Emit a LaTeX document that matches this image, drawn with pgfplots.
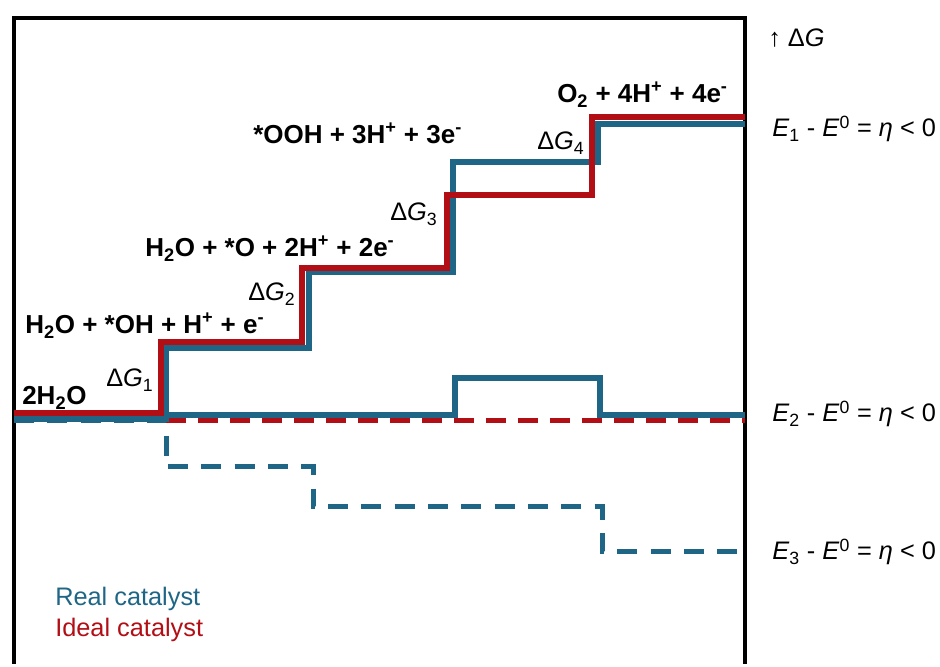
\documentclass[border=0pt]{standalone}
\usepackage{fontspec}
\setmainfont{Liberation Sans}
\usepackage{pgfplots}
\pgfplotsset{compat=1.18}
\definecolor{realc}{RGB}{31,102,134}
\definecolor{idealc}{RGB}{178,14,22}
\begin{document}
\begin{tikzpicture}
\begin{axis}[
 width=705pt, height=498pt, scale only axis,
 xmin=0,xmax=940,ymin=0,ymax=664, y dir=reverse,
 hide axis, clip=false,
]
\path (axis cs:0,0) rectangle (axis cs:940,664);
\draw[line width=3.5pt] (axis cs:14,664) -- (axis cs:14,18) -- (axis cs:745,18) -- (axis cs:745,664);
% real catalyst, E3 (dashed)
\addplot[realc, line width=3.75pt, dash pattern=on 15pt off 10pt] coordinates {(14,421)(166,421)(166,467)(313,467)(313,507)(602,507)(602,551)(745,551)};
% ideal catalyst, E2 (dashed)
\addplot[idealc, line width=3.75pt, dash pattern=on 15pt off 9pt] coordinates {(166,421)(745,421)};
% real catalyst, E2
\addplot[realc, line width=4.5pt] coordinates {(166,415)(455,415)(455,378)(600,378)(600,415)(745,415)};
% real catalyst, E1
\addplot[realc, line width=4.5pt] coordinates {(14,419)(166,419)(166,348)(309,348)(309,272)(453,272)(453,162)(598,162)(598,124)(745,124)};
% ideal catalyst, E1
\addplot[idealc, line width=4.5pt] coordinates {(14,413)(161,413)(161,342)(302,342)(302,268)(447,268)(447,195)(592,195)(592,117)(745,117)};

\tikzset{bl/.style={anchor=base west, inner sep=0pt, font=\bfseries\fontsize{19.5}{22}\selectfont},
 rl/.style={anchor=base west, inner sep=0pt, font=\fontsize{19}{21}\selectfont}}
\node[bl] at (axis cs:22,405) {2H\textsubscript{2}O};
\node[bl] at (axis cs:25,334) {H\textsubscript{2}O + *OH + H\textsuperscript{+} + e\textsuperscript{-}};
\node[bl] at (axis cs:145,257) {H\textsubscript{2}O + *O + 2H\textsuperscript{+} + 2e\textsuperscript{-}};
\node[bl] at (axis cs:253,144) {*OOH + 3H\textsuperscript{+} + 3e\textsuperscript{-}};
\node[bl] at (axis cs:557,103) {O\textsubscript{2} + 4H\textsuperscript{+} + 4e\textsuperscript{-}};
\node[rl] at (axis cs:106,387) {Δ\textit{G}\textsubscript{1}};
\node[rl] at (axis cs:248,301) {Δ\textit{G}\textsubscript{2}};
\node[rl] at (axis cs:390,221) {Δ\textit{G}\textsubscript{3}};
\node[rl] at (axis cs:537,150) {Δ\textit{G}\textsubscript{4}};
\node[rl] at (axis cs:768,47) {↑ Δ\textit{G}};
\node[rl] at (axis cs:772,137) {\textit{E}\textsubscript{1} - \textit{E}\textsuperscript{0} = \textit{η} < 0};
\node[rl] at (axis cs:772,422) {\textit{E}\textsubscript{2} - \textit{E}\textsuperscript{0} = \textit{η} < 0};
\node[rl] at (axis cs:772,560) {\textit{E}\textsubscript{3} - \textit{E}\textsuperscript{0} = \textit{η} < 0};
\node[rl, text=realc] at (axis cs:55,605) {Real catalyst};
\node[rl, text=idealc] at (axis cs:55,636) {Ideal catalyst};
\end{axis}
\end{tikzpicture}
\end{document}
